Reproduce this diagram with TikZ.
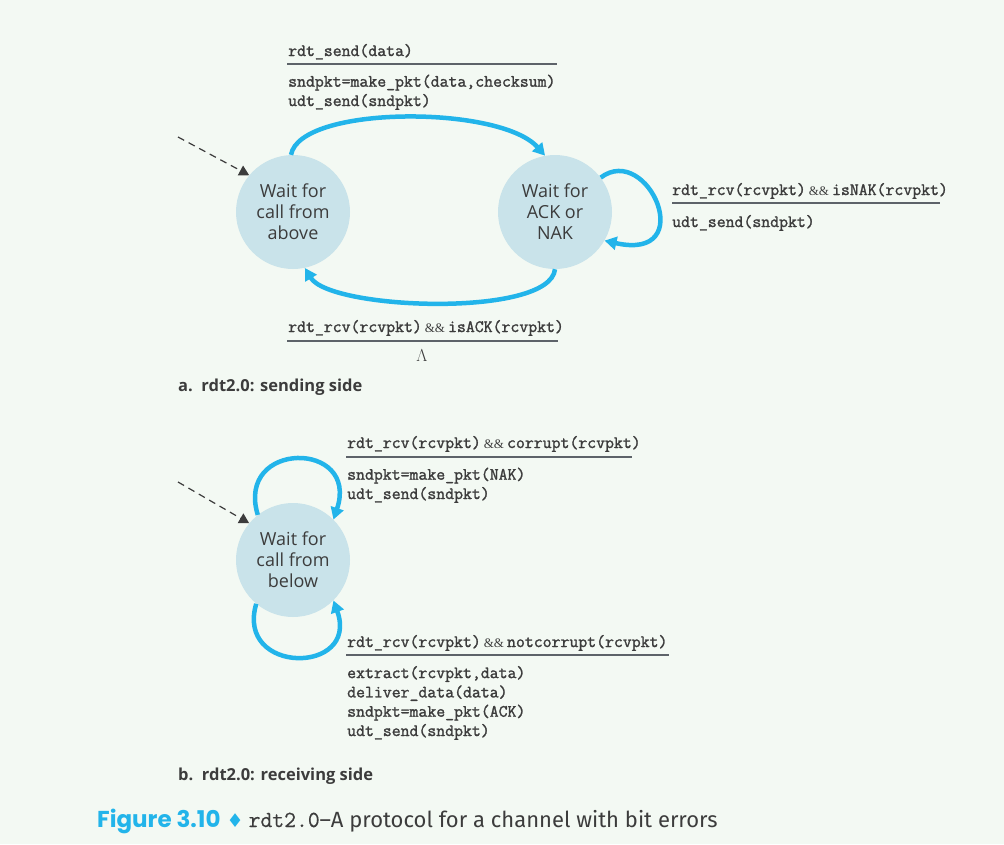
\documentclass[tikz,border=0pt]{standalone}
\usepackage{fontspec}
\usepackage{xcolor}
\usepackage{tikz}
\usetikzlibrary{arrows.meta}
\setmainfont{Open Sans}
\newfontfamily\codefont{Latin Modern Mono}[FakeBold=1.5]
\newfontfamily\capcodefont{Latin Modern Mono}[FakeBold=0.5]
\newfontfamily\ampfont{Liberation Serif}
\newfontfamily\figfont{Poppins}
\newfontfamily\capfont{Fira Sans}
\newfontfamily\symfont{DejaVu Sans}
\definecolor{page_bg}{HTML}{F3F9F3}
\definecolor{state_fill}{HTML}{C9E3EA}
\definecolor{arrow_blue}{HTML}{22B4EA}
\definecolor{text_gray}{HTML}{3C3C3C}
\definecolor{line_gray}{HTML}{5D6369}
\newcommand{\andand}{\hspace{3pt}{\ampfont\fontsize{13}{13}\selectfont\&\&}\hspace{3pt}}

\begin{document}
\begin{tikzpicture}[x=1pt, y=-1pt,
    state/.style={circle, fill=state_fill, minimum size=114pt, inner sep=0pt, align=center,
      text=text_gray, font=\fontsize{18}{21}\selectfont},
    trans/.style={line width=4.5pt, draw=arrow_blue, -{Triangle[length=12pt, width=13pt]}},
    init/.style={draw=text_gray, line width=1.2pt, dash pattern=on 7pt off 5pt,
      -{Triangle[length=10pt, width=11pt]}},
    code/.style={anchor=base west, inner sep=0pt, align=left, text=text_gray,
      font=\codefont\fontsize{17.3}{19.3}\selectfont},
    evtline/.style={draw=line_gray, line width=1.2pt},
    sidelabel/.style={anchor=base west, inner sep=0pt, text=text_gray,
      font=\bfseries\fontsize{16.5}{19}\selectfont}]

    % Page background and size
    \fill[page_bg] (0,0) rectangle (1004,844);
    \useasboundingbox (0,0) rectangle (1004,844);

    % Draw the sender states
    \node[state] (above) at (293,212) {Wait for\\call from\\above};
    \node[state] (acknak) at (555,212) {Wait for\\ACK or\\NAK};

    % Initial arrow of the sender
    \coordinate (startA) at (178,137);
    \draw[init] (startA) -- (above.140);

    % Sender transitions
    \draw[trans] (above.92) .. controls (300,105) and (500,105) .. (acknak.100);
    \draw[trans] (acknak.37) .. controls (648,142) and (700,262) .. (acknak.-30);
    \draw[trans] (acknak.-90) .. controls (550,318) and (330,310) .. (above.-78);

    % Label of rdt_send (base of a block is its last line)
    \node[code] (sendevt) at (288,56) {rdt\_send(data)};
    \draw[evtline] (287,64) -- (557,64);
    \node[code] (sendact) at (288,106) {sndpkt=make\_pkt(data,checksum)\\udt\_send(sndpkt)};

    % Label of isNAK
    \node[code] (nakevt) at (672,195) {rdt\_rcv(rcvpkt)\andand isNAK(rcvpkt)};
    \draw[evtline] (672,203) -- (940,203);
    \node[code] (nakact) at (672,227) {udt\_send(sndpkt)};

    % Label of isACK
    \node[code] (ackevt) at (288,332) {rdt\_rcv(rcvpkt)\andand isACK(rcvpkt)};
    \draw[evtline] (287,341) -- (558,341);
    \node[anchor=base, inner sep=0pt, text=text_gray, font=\fontsize{17}{17}\selectfont] (ackact) at (422,361) {$\Lambda$};

    \node[sidelabel] (sendlabel) at (178,391) {a.\ \ rdt2.0: sending side};

    % Draw the receiver state
    \node[state] (below) at (293,560) {Wait for\\call from\\below};
    \coordinate (startC) at (178,482);
    \draw[init] (startC) -- (below.140);

    % Receiver transitions
    \draw[trans] (below.128) .. controls (235,440) and (360,440) .. (below.45);
    \draw[trans] (below.-130) .. controls (235,675) and (360,675) .. (below.-45);

    % Label of corrupt
    \node[code] (corevt) at (347,448) {rdt\_rcv(rcvpkt)\andand corrupt(rcvpkt)};
    \draw[evtline] (346,457) -- (632,457);
    \node[code] (coract) at (347,499) {sndpkt=make\_pkt(NAK)\\udt\_send(sndpkt)};

    % Label of notcorrupt
    \node[code] (okevt) at (347,647) {rdt\_rcv(rcvpkt)\andand notcorrupt(rcvpkt)};
    \draw[evtline] (346,655) -- (669,655);
    \node[code] (okact) at (347,736) {extract(rcvpkt,data)\\deliver\_data(data)\\sndpkt=make\_pkt(ACK)\\udt\_send(sndpkt)};

    \node[sidelabel] (recvlabel) at (178,780) {b.\ \ rdt2.0: receiving side};

    % Caption
    \node[anchor=base west, inner sep=0pt, text=text_gray] (caption) at (97,827)
      {{\figfont\bfseries\fontsize{23}{28}\selectfont\color{arrow_blue}Figure 3.10}\hspace{6pt}{\symfont\fontsize{19}{19}\selectfont\color{arrow_blue}♦}\hspace{5pt}{\capcodefont\fontsize{23}{28}\selectfont rdt2.0}{\capfont\fontsize{22}{28}\selectfont –A protocol for a channel with bit errors}};

  \end{tikzpicture}
\end{document}
